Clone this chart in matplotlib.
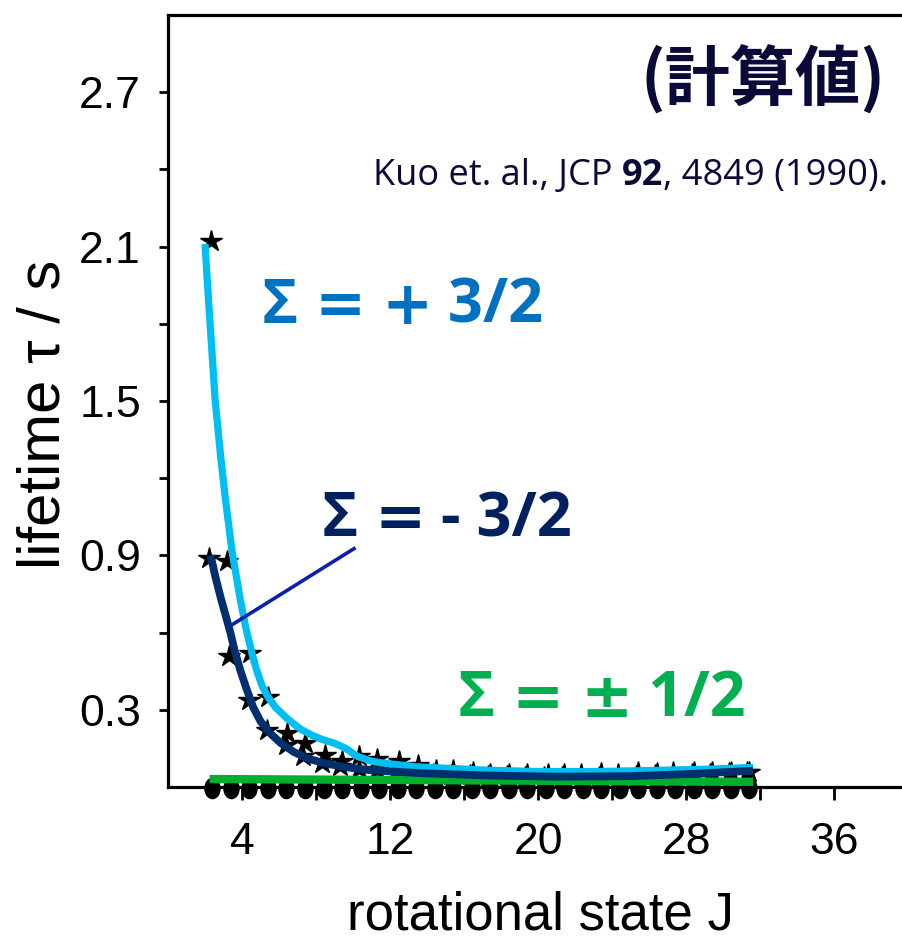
import matplotlib
matplotlib.use("Agg")
import matplotlib.pyplot as plt
from matplotlib.path import Path
from matplotlib.transforms import Affine2D

# ---- data -------------------------------------------------------------
# black star marks: Sigma = +3/2 lifetimes
J_star_p32 = [2.3, 3.2, 4.45, 5.4, 6.45, 7.4, 8.5, 9.4, 10.3, 11.3, 12.5, 13.5,
              14.5, 15.4, 16.5, 17.4, 18.4, 19.4, 20.5, 21.4, 22.3, 23.4, 24.3,
              25.4, 26.4, 27.3, 28.4, 29.4, 30.4, 31.4]
tau_star_p32 = [2.12, 0.88, 0.52, 0.35, 0.21, 0.17, 0.125, 0.10, 0.12, 0.11, 0.10,
                0.085, 0.065, 0.065, 0.058, 0.05, 0.05, 0.05, 0.052, 0.05, 0.05,
                0.055, 0.052, 0.057, 0.055, 0.06, 0.057, 0.057, 0.057, 0.06]

# black star marks: Sigma = -3/2 lifetimes
J_star_m32 = [2.2, 3.3, 4.35, 5.35, 6.35, 7.3, 8.3, 9.3, 10.3, 11.3, 12.3, 13.3,
              14.3, 15.3, 16.3, 17.3, 18.3, 19.3, 20.3, 21.3, 22.3, 23.3, 24.3,
              25.3, 26.3, 27.3, 28.3, 29.3, 30.3, 31.3]
tau_star_m32 = [0.89, 0.51, 0.34, 0.22, 0.165, 0.12, 0.095, 0.08, 0.07, 0.065,
                0.06, 0.055, 0.05, 0.048, 0.045, 0.043, 0.042, 0.04, 0.04, 0.04,
                0.04, 0.04, 0.042, 0.043, 0.045, 0.047, 0.05, 0.052, 0.055, 0.058]

# black round marks: Sigma = +-1/2 lifetimes
J_dot_12 = [2.4, 3.4, 4.4, 5.4, 6.4, 7.4, 8.4, 9.4, 10.4, 11.4, 12.4, 13.4, 14.4,
            15.4, 16.4, 17.4, 18.4, 19.4, 20.4, 21.4, 22.4, 23.4, 24.4, 25.4,
            26.4, 27.4, 28.4, 29.4, 30.4, 31.4]
tau_dot_12 = [-0.004] * len(J_dot_12)

# hand-drawn guide curves
J_line_p32 = [2.0, 2.2, 2.55, 2.85, 3.1, 3.45, 3.9, 4.2, 4.6, 4.85, 5.1, 5.4,
              5.8, 6.45, 7.15, 7.8, 8.4, 9.0, 9.6, 10.2, 11.0, 11.7, 13.5, 15.3,
              17.0, 20.0, 23.0, 26.0, 29.0, 31.6]
tau_line_p32 = [2.11, 1.88, 1.50, 1.28, 1.12, 0.92, 0.73, 0.62, 0.50, 0.44, 0.39,
                0.35, 0.31, 0.265, 0.225, 0.20, 0.183, 0.17, 0.15, 0.12, 0.10,
                0.092, 0.078, 0.072, 0.066, 0.06, 0.06, 0.064, 0.069, 0.076]

J_line_m32 = [2.3, 2.55, 2.83, 3.1, 3.37, 3.6, 3.9, 4.2, 4.6, 5.0, 5.5, 6.1,
              6.8, 7.5, 8.4, 9.5, 10.8, 13.5, 17.0, 21.0, 25.0, 28.0, 31.6]
tau_line_m32 = [0.90, 0.82, 0.74, 0.67, 0.60, 0.53, 0.455, 0.39, 0.31, 0.255,
                0.21, 0.17, 0.136, 0.112, 0.093, 0.078, 0.066, 0.054, 0.045,
                0.04, 0.042, 0.05, 0.063]

J_line_12 = [2.25, 31.6]
tau_line_12 = [0.031, 0.02]

# pointer from the Sigma = -3/2 label to its curve
J_pointer = [3.27, 10.13]
tau_pointer = [0.622, 0.93]

x_ticks = [4, 8, 12, 16, 20, 24, 28, 32, 36]
x_tick_labels = ["4", "", "12", "", "20", "", "28", "", "36"]
y_ticks = [0.3, 0.6, 0.9, 1.2, 1.5, 1.8, 2.1, 2.4, 2.7]
y_tick_labels = ["0.3", "", "0.9", "", "1.5", "", "2.1", "", "2.7"]

# ---- colours ----------------------------------------------------------
c_light = "#00BDF2"
c_navy = "#002F6E"
c_green = "#00B02C"
c_pointer = "#0A22AA"
c_lab_p32 = "#0070C0"
c_lab_m32 = "#002060"
c_lab_12 = "#00B050"
c_title = "#0A0A38"

W, H = 903, 939
fig = plt.figure(figsize=(W / 100, H / 100), dpi=100)
fig.patch.set_facecolor("white")
renderer = fig.canvas.get_renderer()

x0, x1, y_top, y_bot = 168, 903, 15, 787
ax = fig.add_axes([x0 / W, 1 - y_bot / H, (x1 - x0) / W, (y_bot - y_top) / H])
ax.set_xlim(0, 39.7)
ax.set_ylim(0, 3.0)

# upright oval marker for the Sigma = +-1/2 points
oval = Path.unit_circle().transformed(Affine2D().scale(0.75, 1.0))

# data marks
ax.plot(J_star_m32, tau_star_m32, linestyle="none", marker="*", ms=16,
        color="black", zorder=2, clip_on=False)
ax.plot(J_star_p32, tau_star_p32, linestyle="none", marker="*", ms=16,
        color="black", zorder=2, clip_on=False)
ax.plot(J_dot_12, tau_dot_12, linestyle="none", marker=oval, ms=14.5,
        color="black", zorder=2, clip_on=False)

# guide curves
ax.plot(J_line_12, tau_line_12, color=c_green, lw=6, solid_capstyle="butt",
        zorder=3, clip_on=False)
ax.plot(J_line_p32, tau_line_p32, color=c_light, lw=5.2, solid_capstyle="butt",
        solid_joinstyle="round", zorder=4)
ax.plot(J_line_m32, tau_line_m32, color=c_navy, lw=5.6, solid_capstyle="butt",
        solid_joinstyle="round", zorder=5)
ax.plot(J_pointer, tau_pointer, color=c_pointer, lw=2.6, solid_capstyle="butt",
        zorder=6)

# axes styling
for side in ("left", "bottom", "top"):
    ax.spines[side].set_linewidth(2.3)
    ax.spines[side].set_color("black")
ax.spines["right"].set_visible(False)

tick_font = dict(family=["Liberation Sans", "DejaVu Sans"], size=32)
ax.set_xticks(x_ticks)
ax.set_xticklabels(x_tick_labels, **tick_font)
ax.set_yticks(y_ticks)
ax.set_yticklabels(y_tick_labels, **tick_font)
ax.tick_params(axis="x", direction="out", length=9, width=2, pad=16)
ax.tick_params(axis="y", direction="out", length=6.5, width=2, pad=13)

ax.set_xlabel("rotational state J", family=["Liberation Sans", "DejaVu Sans"], size=38)
ax.xaxis.set_label_coords((540 - x0) / (x1 - x0), (y_bot - 915) / (y_bot - y_top))
ax.xaxis.label.set_va("center")
ax.set_ylabel("lifetime τ / s", family=["Liberation Sans", "DejaVu Sans"], size=43)
ax.yaxis.set_label_coords((44 - x0) / (x1 - x0), (y_bot - 414) / (y_bot - y_top))
ax.yaxis.label.set_va("center")


def piece_text(x_left, y_center, pieces, color, size):
    """Write a run of text pieces left to right, each with its own family."""
    x = x_left
    for text, family in pieces:
        t = fig.text(x / W, 1 - y_center / H, text, color=color, family=family,
                     weight="bold", size=size, ha="left", va="center")
        x = t.get_window_extent(renderer=renderer).x1


sans = ["Open Sans", "DejaVu Sans"]
sym = ["DejaVu Sans"]
piece_text(262, 307, [("Σ ", sans), ("=", sym), (" ", sans), ("+", sym), (" 3/2", sans)],
           c_lab_p32, 44)
piece_text(322, 521, [("Σ ", sans), ("=", sym), (" - 3/2", sans)], c_lab_m32, 44)
piece_text(458, 700, [("Σ ", sans), ("=", sym), (" ", sans), ("±", sym), (" 1/2", sans)],
           c_lab_12, 45)

# heading
fig.text(886 / W, 1 - 80 / H, "(計算値)", color=c_title,
         family=["Noto Sans CJK JP", "DejaVu Sans"], weight="bold", size=47,
         ha="right", va="center")

# citation, with the volume number in bold
cite_parts = [("Kuo et. al., JCP ", "normal"), ("92", "bold"), (", 4849 (1990).", "normal")]
x_right = 888
for text, weight in reversed(cite_parts):
    t = fig.text(x_right / W, 1 - 176 / H, text, color=c_title,
                 family=["Open Sans", "DejaVu Sans"], weight=weight, size=26,
                 ha="right", va="center")
    x_right = t.get_window_extent(renderer=renderer).x0

fig.savefig("out.png", dpi=100, facecolor="white")
